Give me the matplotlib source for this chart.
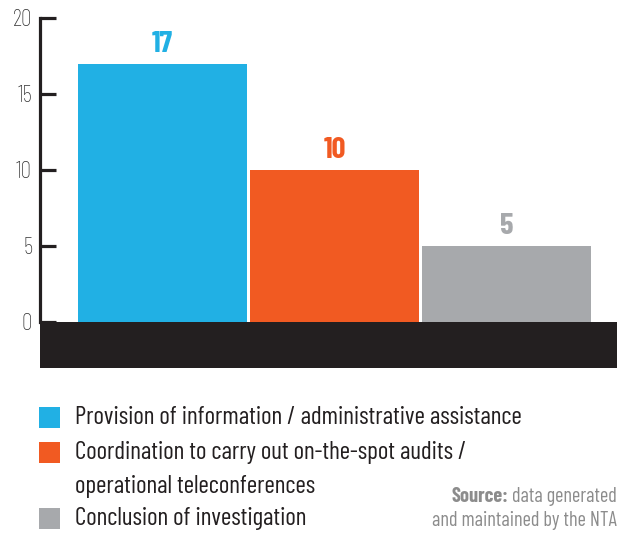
import matplotlib
matplotlib.use("Agg")
import matplotlib.pyplot as plt
from matplotlib.patches import Rectangle

categories = ["Provision of information / administrative assistance",
              "Coordination to carry out on-the-spot audits /\noperational teleconferences",
              "Conclusion of investigation"]
values = [17, 10, 5]
colors = ["#21b0e4", "#f15a22", "#a7a9ac"]
yticks = [0, 5, 10, 15, 20]

FONT = "Barlow Condensed"
plt.rcParams["font.family"] = [FONT, "DejaVu Sans"]

W, H = 617, 534
fig = plt.figure(figsize=(W / 100, H / 100), dpi=100)

def fx(px):
    return px / W

def fy(py):
    return 1 - py / H

dark = "#231f20"
left_px, top_px, bot_px = 40.5, 18, 368
ax = fig.add_axes([fx(left_px), fy(bot_px), fx(W - left_px), (bot_px - top_px) / H])
ax.set_ylim(-3.03, 20)
ax.set_xlim(-0.709, 2.643)

x = list(range(len(values)))
ax.bar(x, values, width=0.983, color=colors, zorder=2)
ax.axhspan(-3.03, 0, color=dark, zorder=3, lw=0)

for xi, v, c in zip(x, values, colors):
    ax.annotate(str(v), (xi, v), xytext=(0, 4), textcoords="offset points",
                ha="center", va="bottom", fontsize=22, fontweight="bold", color=c)

for s in ["top", "right", "bottom"]:
    ax.spines[s].set_visible(False)
ax.spines["left"].set_bounds(0, 20)
ax.spines["left"].set_linewidth(2.3)
ax.spines["left"].set_color(dark)
ax.set_yticks(yticks)
ax.set_yticklabels([str(t) for t in yticks])
ax.tick_params(axis="y", direction="in", length=11.5, width=2.3, color=dark,
               labelsize=17, labelcolor="#333333", pad=6)
for lab in ax.get_yticklabels():
    lab.set_fontweight("light")
ax.set_xticks([])
ax.patch.set_alpha(0)

# legend
sq_tops = [407, 442, 508]
line_gap = 33
for top, lab, c in zip(sq_tops, categories, colors):
    fig.patches.append(Rectangle((fx(39), fy(top + 21)), fx(21), 21 / H,
                                 transform=fig.transFigure, color=c, lw=0))
    for i, line in enumerate(lab.split("\n")):
        fig.text(fx(75), fy(top + 11 + i * line_gap), line, ha="left", va="center",
                 fontsize=18.2, color=dark)

src_color = "#8c8c8c"
t1 = fig.text(fx(617), fy(497), "data generated", ha="right", va="center",
              fontsize=14.6, color=src_color)
fig.text(fx(617), fy(521), "and maintained by the NTA", ha="right", va="center",
         fontsize=14.6, color=src_color)
fig.canvas.draw()
bb = t1.get_window_extent()
fig.text(bb.x0 / W - fx(4), fy(497), "Source:", ha="right", va="center",
         fontsize=14.6, color=src_color, fontweight="bold")

fig.savefig("out.png", dpi=100)
